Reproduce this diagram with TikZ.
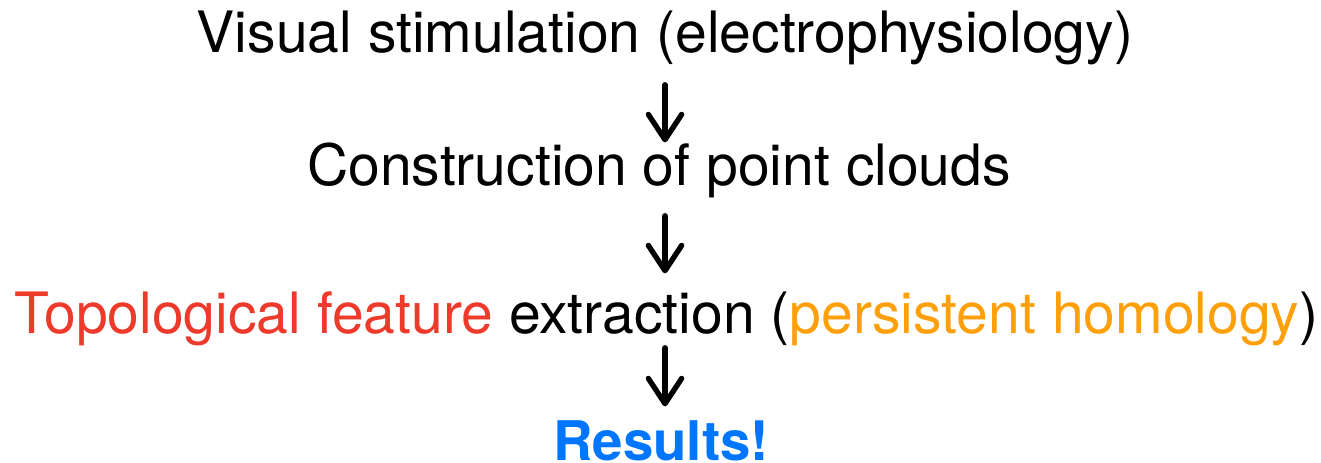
\documentclass[tikz,border=0pt]{standalone}
\usepackage{fontspec}
\setmainfont{TeX Gyre Heros}
\usetikzlibrary{arrows.meta,calc}
\definecolor{tred}{RGB}{238,58,42}
\definecolor{torange}{RGB}{255,160,10}
\definecolor{tblue}{RGB}{0,118,255}
\begin{document}
\begin{tikzpicture}[x=0.75pt,y=-0.75pt,
  line/.style={anchor=base,inner sep=0pt,text height=31pt,text depth=9pt,font=\fontsize{42.8}{50}\selectfont},
  result/.style={anchor=base,inner sep=0pt,text height=29.5pt,text depth=0pt,font=\fontsize{41}{48}\selectfont\bfseries,text=tblue},
  arr/.style={line width=4pt,line cap=round,-{Straight Barb[length=19pt,width=25pt,round]}}]
\useasboundingbox (0,0) rectangle (1321,463);
\node[line] (l1) at (665,53) {Visual stimulation (electrophysiology)};
\node[line] (l2) at (659,186) {Construction of point clouds};
\node[line] (l3) at (666.5,334) {\textcolor{tred}{Topological feature} extraction (\textcolor{torange}{persistent homology})};
\node[result] (l4) at (661,460) {Results!};
\draw[arr] ($(l1.south)+(0,19.5)$) -- ($(l1.south |- l2.north)+(0,-2)$);
\draw[arr] ($(l2.south -| l1.south)+(0,17.5)$) -- ($(l3.north -| l1.south)+(0,-19)$);
\draw[arr] ($(l3.south -| l1.south)+(0,1.5)$) -- ($(l4.north -| l1.south)+(0,-14)$);
\end{tikzpicture}
\end{document}
